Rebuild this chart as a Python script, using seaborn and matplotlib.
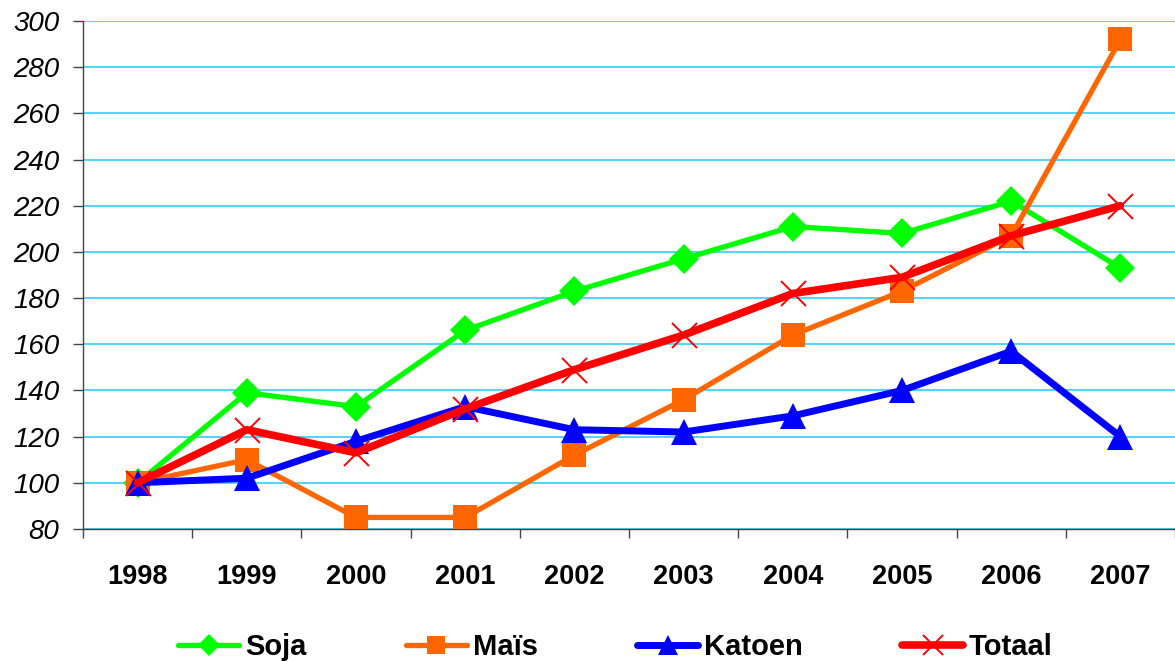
import matplotlib
matplotlib.use("Agg")
import matplotlib.pyplot as plt
import seaborn as sns
import pandas as pd
from matplotlib.ticker import FixedLocator

years = ["1998", "1999", "2000", "2001", "2002", "2003", "2004", "2005", "2006", "2007"]
soja = [100, 139, 133, 166, 183, 197, 211, 208, 222, 193]
mais = [100, 110, 85, 85, 112, 136, 164, 183, 207, 292]
katoen = [100, 102, 118, 133, 123, 122, 129, 140, 157, 120]
totaal = [100, 123, 113, 132, 149, 164, 182, 189, 207, 220]
series_names = ["Soja", "Maïs", "Katoen", "Totaal"]
yticks = list(range(80, 301, 20))

sns.set_theme(style="white")
plt.rcParams['font.family'] = ['Liberation Sans', 'DejaVu Sans']
plt.rcParams['text.color'] = 'black'
plt.rcParams['xtick.labelcolor'] = 'black'
plt.rcParams['ytick.labelcolor'] = 'black'

df = pd.DataFrame({
    "year": years * 4,
    "value": soja + mais + katoen + totaal,
    "serie": sum([[n] * len(years) for n in series_names], []),
})

styles = {
    "Soja": dict(color="#00FF00", marker="D", ms=15, lw=3.8, mew=0, lms=11),
    "Maïs": dict(color="#FF6600", marker="s", ms=17, lw=3.8, mew=0, lms=13),
    "Katoen": dict(color="#0000FF", marker="^", ms=19, lw=5.0, mew=0, lms=14),
    "Totaal": dict(color="#FF0000", marker="x", ms=18, lw=5.5, mew=1.4, lms=14),
}

fig = plt.figure(figsize=(11.75, 6.62), dpi=100)
ax = fig.add_axes([83 / 1175, (662 - 529) / 662, (1175 - 83) / 1175, 508 / 662])

for i, name in enumerate(series_names):
    st = styles[name]
    sub = df[df["serie"] == name]
    sns.lineplot(data=sub, x="year", y="value", ax=ax, color=st["color"],
                 linewidth=st["lw"], marker=st["marker"], markersize=st["ms"],
                 markeredgewidth=st["mew"], markeredgecolor=st["color"],
                 label=name, zorder=3 + i, sort=False, clip_on=False)

ax.set_xlim(-0.5, 9.5)
ax.set_ylim(80, 300)
ax.set_yticks(yticks, labels=[str(v) for v in yticks], fontsize=20, fontstyle="italic",
              color="black")
ax.yaxis.grid(True, color="#33CCFF", linewidth=1.2)
ax.set_axisbelow(True)
ax.set_xlabel("")
ax.set_ylabel("")
for s in ["top", "right"]:
    ax.spines[s].set_visible(False)
for s in ["left", "bottom"]:
    ax.spines[s].set_color("#444444")
    ax.spines[s].set_linewidth(1.0)

ax.tick_params(axis="y", which="major", left=True, length=7, width=1, color="#444444", pad=10)

ax.set_xticks(range(len(years)), labels=years, fontsize=19.5, fontweight="bold", color="black")
ax.tick_params(axis="x", which="major", length=0, pad=25)
ax.xaxis.set_minor_locator(FixedLocator([i - 0.5 for i in range(len(years) + 1)]))
ax.tick_params(axis="x", which="minor", bottom=True, length=6.5, width=1, color="#444444")

leg = ax.legend(loc="center", bbox_to_anchor=(0.4876, -0.232), ncol=4, frameon=False,
                prop={"size": 21, "weight": "bold"}, handlelength=2.1, columnspacing=3.4,
                handletextpad=0.2, borderaxespad=0, borderpad=0, labelcolor="black")
for h, name in zip(leg.legend_handles, series_names):
    h.set_markersize(styles[name]["lms"])

fig.savefig("out.png", dpi=100)
